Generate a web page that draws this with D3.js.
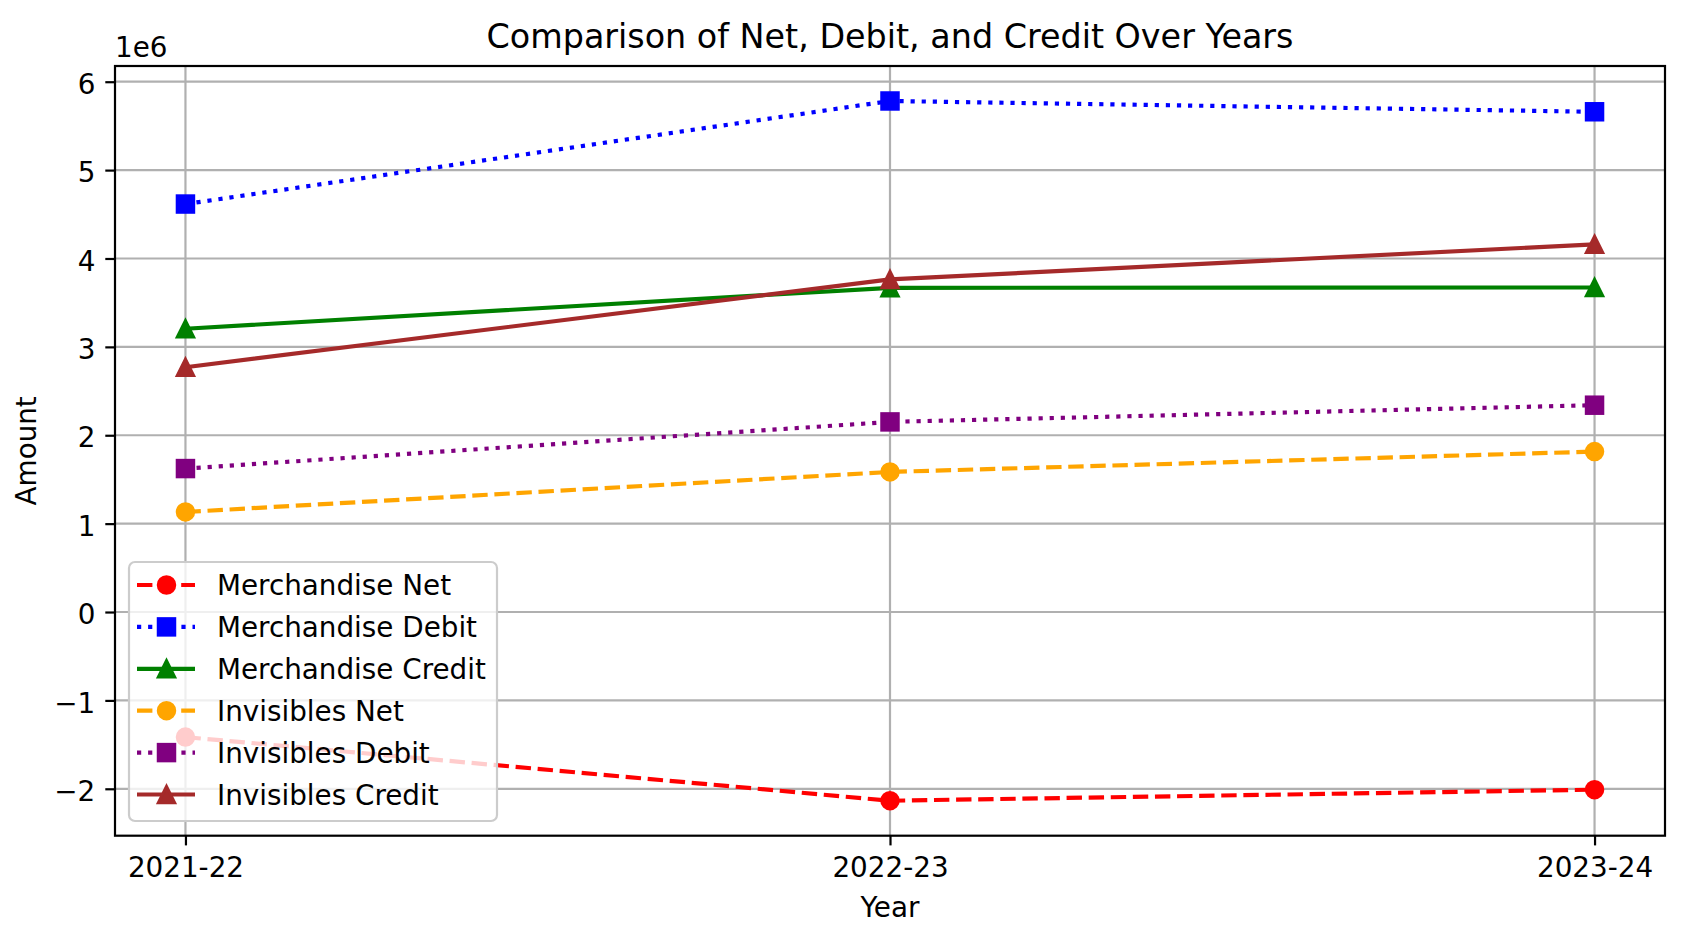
<!DOCTYPE html>
<html>
<head>
<meta charset="utf-8">
<script src="https://cdn.jsdelivr.net/npm/d3@7"></script>
<style>
    body { margin: 0; background: #fff; }
    svg { display: block; font-family: "DejaVu Sans", sans-serif; }
</style>
</head>
<body>
<div class="line-chart-container"></div>
<script>
const YEARS = ["2021-22", "2022-23", "2023-24"];
const SERIES_NAMES = ["Merchandise Net", "Merchandise Debit", "Merchandise Credit", "Invisibles Net", "Invisibles Debit", "Invisibles Credit"];
const MERCHANDISE_NET = [-1415000, -2135000, -2010000];
const MERCHANDISE_DEBIT = [4616000, 5782000, 5660000];
const MERCHANDISE_CREDIT = [3205000, 3668000, 3672000];
const INVISIBLES_NET = [1132000, 1585000, 1815000];
const INVISIBLES_DEBIT = [1623000, 2151000, 2340000];
const INVISIBLES_CREDIT = [2770000, 3763000, 4160000];
const Y_TICKS = [-2e6, -1e6, 0, 1e6, 2e6, 3e6, 4e6, 5e6, 6e6];

// matplotlib at ~200 dpi: 1pt = 2.78px
const DASHED = "15.4,6.7";
const DOTTED = "4.2,6.9";
const STYLES = [
    {color: "red", dash: DASHED, marker: "circle"},
    {color: "blue", dash: DOTTED, marker: "square"},
    {color: "green", dash: null, marker: "triangle"},
    {color: "orange", dash: DASHED, marker: "circle"},
    {color: "purple", dash: DOTTED, marker: "square"},
    {color: "brown", dash: null, marker: "triangle"}
];

const LineChart = {
    width: 1686,
    height: 937,
    margin: {top: 66, right: 21, bottom: 101.3, left: 115},
    fontSize: 27.8,
    svg: {},
    x: {},
    y: {},
    data: [],
    load: function() {
        const values = [MERCHANDISE_NET, MERCHANDISE_DEBIT, MERCHANDISE_CREDIT, INVISIBLES_NET, INVISIBLES_DEBIT, INVISIBLES_CREDIT];
        this.data = SERIES_NAMES.map((name, i) => ({name: name, values: values[i], style: STYLES[i]}));

        const m = this.margin;
        const all = values.flat();
        const lo = d3.min(all), hi = d3.max(all);
        const pad = (hi - lo) * 0.05;

        this.x = d3.scalePoint()
            .domain(YEARS)
            .range([m.left, this.width - m.right])
            .padding(0.1);

        this.y = d3.scaleLinear()
            .domain([lo - pad, hi + pad])
            .range([this.height - m.bottom, m.top]);

        this.svg = d3.select(".line-chart-container")
            .append("svg")
            .attr("width", this.width)
            .attr("height", this.height);

        this.drawGrid();
        this.drawLines();
        this.drawAxes();
        this.drawLegend();
    },
    marker: function(sel, type, color) {
        const s = 8.35;
        let shape;
        if (type === "circle") {
            shape = sel.append("circle").attr("r", s);
        } else if (type === "square") {
            shape = sel.append("rect").attr("x", -s).attr("y", -s).attr("width", 2 * s).attr("height", 2 * s);
        } else {
            shape = sel.append("path").attr("d", `M0,${-s}L${s},${s}L${-s},${s}Z`);
        }
        shape.attr("fill", color)
            .attr("stroke", color)
            .attr("stroke-width", 2.78)
            .attr("stroke-dasharray", null);
    },
    drawGrid: function() {
        const m = this.margin;
        const grid = this.svg.append("g")
            .attr("stroke", "#b0b0b0")
            .attr("stroke-width", 2.2);

        grid.selectAll(".gx")
            .data(YEARS)
            .join("line")
            .attr("x1", d => this.x(d))
            .attr("x2", d => this.x(d))
            .attr("y1", m.top)
            .attr("y2", this.height - m.bottom);

        grid.selectAll(".gy")
            .data(Y_TICKS)
            .join("line")
            .attr("x1", m.left)
            .attr("x2", this.width - m.right)
            .attr("y1", d => this.y(d))
            .attr("y2", d => this.y(d));
    },
    drawLines: function() {
        const line = d3.line()
            .x((d, i) => this.x(YEARS[i]))
            .y(d => this.y(d));

        const series = this.svg.append("g")
            .selectAll("g")
            .data(this.data)
            .join("g");

        series.append("path")
            .attr("d", d => line(d.values))
            .attr("fill", "none")
            .attr("stroke", d => d.style.color)
            .attr("stroke-width", 4.17)
            .attr("stroke-dasharray", d => d.style.dash)
            .attr("stroke-linejoin", "round");

        series.each((d, i, nodes) => {
            d3.select(nodes[i]).selectAll("g")
                .data(d.values)
                .join("g")
                .attr("transform", (v, j) => `translate(${this.x(YEARS[j])},${this.y(v)})`)
                .each((v, j, ms) => this.marker(d3.select(ms[j]), d.style.marker, d.style.color));
        });
    },
    drawAxes: function() {
        const m = this.margin;
        const bottom = this.height - m.bottom;
        const right = this.width - m.right;
        const fs = this.fontSize;

        const xAxis = this.svg.append("g")
            .attr("transform", `translate(0,${bottom})`)
            .call(d3.axisBottom(this.x).tickSize(9.7).tickPadding(11.5));

        const yAxis = this.svg.append("g")
            .attr("transform", `translate(${m.left},0)`)
            .call(d3.axisLeft(this.y).tickValues(Y_TICKS).tickSize(9.7).tickPadding(10)
                .tickFormat(d => d3.format("d")(d / 1e6).replace("-", "\u2212")));

        [xAxis, yAxis].forEach(a => {
            a.select(".domain").remove();
            a.selectAll(".tick line").attr("stroke", "#000").attr("stroke-width", 2.2);
            a.selectAll(".tick text")
                .attr("font-size", fs)
                .attr("font-family", "DejaVu Sans")
                .attr("fill", "#000");
        });
        yAxis.selectAll(".tick text").attr("dy", "0.42em");

        this.svg.append("rect")
            .attr("x", m.left)
            .attr("y", m.top)
            .attr("width", right - m.left)
            .attr("height", bottom - m.top)
            .attr("fill", "none")
            .attr("stroke", "#000")
            .attr("stroke-width", 2.2);

        this.svg.append("text")
            .attr("x", (m.left + right) / 2)
            .attr("y", 48)
            .attr("text-anchor", "middle")
            .attr("font-size", fs * 1.2)
            .text("Comparison of Net, Debit, and Credit Over Years");

        this.svg.append("text")
            .attr("x", m.left)
            .attr("y", 57)
            .attr("font-size", fs)
            .text("1e6");

        this.svg.append("text")
            .attr("x", (m.left + right) / 2)
            .attr("y", 917)
            .attr("text-anchor", "middle")
            .attr("font-size", fs)
            .text("Year");

        this.svg.append("text")
            .attr("transform", `translate(36,${(m.top + bottom) / 2}) rotate(-90)`)
            .attr("text-anchor", "middle")
            .attr("font-size", fs)
            .text("Amount");
    },
    drawLegend: function() {
        const legend = this.svg.append("g")
            .attr("transform", "translate(129,562)");

        legend.append("rect")
            .attr("width", 368)
            .attr("height", 259)
            .attr("rx", 6)
            .attr("fill", "#fff")
            .attr("fill-opacity", 0.8)
            .attr("stroke", "#cccccc")
            .attr("stroke-width", 2.2);

        const item = legend.selectAll(".item")
            .data(this.data)
            .join("g")
            .attr("transform", (d, i) => `translate(0,${23 + i * 41.9})`);

        item.append("line")
            .attr("x1", 8)
            .attr("x2", 66)
            .attr("stroke", d => d.style.color)
            .attr("stroke-width", 4.17)
            .attr("stroke-dasharray", d => d.style.dash);

        item.each((d, i, nodes) => {
            const g = d3.select(nodes[i]).append("g").attr("transform", "translate(37.5,0)");
            this.marker(g, d.style.marker, d.style.color);
        });

        item.append("text")
            .attr("x", 88)
            .attr("y", 10)
            .attr("font-size", this.fontSize)
            .text(d => d.name);
    }
};

LineChart.load();
</script>
</body>
</html>
